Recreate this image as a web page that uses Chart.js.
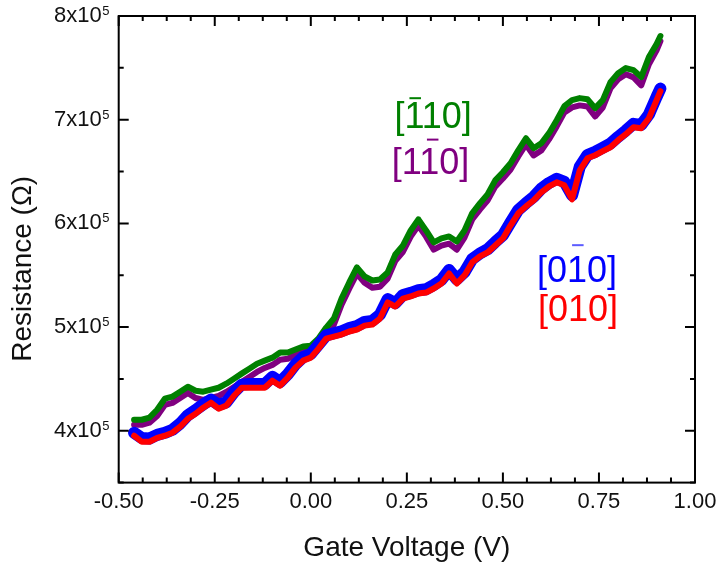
<!DOCTYPE html>
<html>
<head>
<meta charset="utf-8">
<script src="https://cdn.jsdelivr.net/npm/chart.js@4.4.1/dist/chart.umd.min.js"></script>
<style>
  body { margin: 0; background: #fff; }
  canvas { display: block; }
</style>
</head>
<body>
<canvas id="myChart" width="717" height="562"></canvas>
<script>
// gate voltage (V), same grid for every curve
const voltage = [-0.46, -0.44, -0.42, -0.40, -0.38, -0.36, -0.34, -0.32, -0.30, -0.28,
  -0.26, -0.24, -0.22, -0.20, -0.18, -0.16, -0.14, -0.12, -0.10, -0.08,
  -0.06, -0.04, -0.02, 0.00, 0.02, 0.04, 0.06, 0.08, 0.10, 0.12,
  0.14, 0.16, 0.18, 0.20, 0.22, 0.24, 0.26, 0.28, 0.30, 0.32,
  0.34, 0.36, 0.38, 0.40, 0.42, 0.44, 0.46, 0.48, 0.50, 0.52,
  0.54, 0.56, 0.58, 0.60, 0.62, 0.64, 0.66, 0.68, 0.70, 0.72,
  0.74, 0.76, 0.78, 0.80, 0.82, 0.84, 0.86, 0.88, 0.90, 0.91];

// resistance in units of 10^5 ohm
const resM110 = [4.106, 4.106, 4.126, 4.203, 4.309, 4.329, 4.377, 4.425, 4.386, 4.377,
  4.396, 4.415, 4.454, 4.502, 4.551, 4.599, 4.647, 4.676, 4.705, 4.754,
  4.754, 4.783, 4.812, 4.821, 4.889, 4.995, 5.082, 5.275, 5.430, 5.575,
  5.488, 5.449, 5.459, 5.527, 5.700, 5.787, 5.932, 6.039, 5.932, 5.816,
  5.855, 5.874, 5.826, 5.932, 6.097, 6.193, 6.280, 6.415, 6.493, 6.580,
  6.705, 6.821, 6.725, 6.773, 6.870, 6.995, 7.130, 7.188, 7.208, 7.198,
  7.111, 7.188, 7.362, 7.449, 7.498, 7.478, 7.411, 7.604, 7.729, 7.807];

const res1M10 = [4.058, 4.058, 4.078, 4.143, 4.249, 4.269, 4.317, 4.365, 4.316, 4.297,
  4.316, 4.335, 4.374, 4.422, 4.471, 4.519, 4.567, 4.606, 4.635, 4.684,
  4.694, 4.733, 4.772, 4.781, 4.839, 4.935, 5.022, 5.215, 5.370, 5.515,
  5.428, 5.379, 5.389, 5.467, 5.640, 5.727, 5.872, 5.979, 5.872, 5.746,
  5.785, 5.804, 5.746, 5.862, 6.037, 6.133, 6.220, 6.355, 6.433, 6.520,
  6.645, 6.761, 6.655, 6.703, 6.810, 6.935, 7.070, 7.118, 7.138, 7.128,
  7.031, 7.118, 7.302, 7.389, 7.438, 7.408, 7.331, 7.534, 7.669, 7.757];

const res0M10 = [3.98, 3.93, 3.925, 3.96, 3.98, 4.01, 4.07, 4.15, 4.20, 4.255,
  4.30, 4.25, 4.275, 4.37, 4.445, 4.45, 4.45, 4.45, 4.52, 4.47,
  4.545, 4.64, 4.71, 4.74, 4.83, 4.92, 4.94, 4.96, 4.99, 5.01,
  5.05, 5.06, 5.12, 5.27, 5.23, 5.31, 5.33, 5.355, 5.365, 5.405,
  5.455, 5.55, 5.46, 5.53, 5.655, 5.71, 5.75, 5.82, 5.885, 6.01,
  6.13, 6.195, 6.255, 6.335, 6.39, 6.43, 6.40, 6.27, 6.545, 6.66,
  6.69, 6.73, 6.77, 6.835, 6.895, 6.96, 6.95, 7.05, 7.22, 7.30];

const res010 = [3.952, 3.894, 3.894, 3.932, 3.952, 3.981, 4.039, 4.116, 4.164, 4.222,
  4.271, 4.213, 4.242, 4.338, 4.415, 4.415, 4.415, 4.415, 4.483, 4.435,
  4.512, 4.609, 4.676, 4.705, 4.792, 4.889, 4.908, 4.928, 4.957, 4.976,
  5.014, 5.024, 5.082, 5.237, 5.198, 5.275, 5.295, 5.324, 5.333, 5.372,
  5.420, 5.517, 5.420, 5.498, 5.623, 5.681, 5.720, 5.787, 5.855, 5.981,
  6.097, 6.164, 6.222, 6.300, 6.357, 6.396, 6.367, 6.232, 6.512, 6.628,
  6.657, 6.696, 6.734, 6.802, 6.860, 6.928, 6.918, 7.014, 7.188, 7.275];

const xTicks = [-0.50, -0.25, 0.00, 0.25, 0.50, 0.75, 1.00];
const yTicks = [4, 5, 6, 7, 8];

// direction labels: text, index of the digit carrying a bar
const dirNames = ["[110]", "[110]", "[010]", "[010]"];
const dirBars = [1, 2, 2, -1];

const FONT = "'Liberation Sans', Arial, sans-serif";
Chart.defaults.font.family = FONT;
Chart.defaults.color = "#111";

function pts(arr) {
  return voltage.map((v, i) => ({ x: v, y: arr[i] }));
}

const labelPlugin = {
  id: "decor",
  afterDraw(chart) {
    const ctx = chart.ctx;
    const a = chart.chartArea;
    const sx = chart.scales.x, sy = chart.scales.y;
    ctx.save();

    // frame and inward ticks
    ctx.strokeStyle = "#000";
    ctx.lineWidth = 2;
    ctx.strokeRect(a.left, a.top, a.right - a.left, a.bottom - a.top);
    ctx.beginPath();
    for (let k = 0; k <= 24; k++) {
      const v = -0.5 + k * 0.0625;
      const px = sx.getPixelForValue(v);
      const len = k % 4 === 0 ? 10 : 5;
      ctx.moveTo(px, a.bottom); ctx.lineTo(px, a.bottom - len);
      ctx.moveTo(px, a.top); ctx.lineTo(px, a.top + len);
    }
    for (let k = 0; k <= 9; k++) {
      const v = 3.5 + k * 0.5;
      const py = sy.getPixelForValue(v);
      const len = k % 2 === 1 ? 10 : 5;
      ctx.moveTo(a.left, py); ctx.lineTo(a.left + len, py);
      ctx.moveTo(a.right, py); ctx.lineTo(a.right - len, py);
    }
    ctx.stroke();

    // exponent of the y tick labels
    ctx.fillStyle = "#111";
    ctx.font = "13px " + FONT;
    ctx.textAlign = "left";
    ctx.textBaseline = "alphabetic";
    yTicks.forEach(v => {
      const py = sy.getPixelForValue(v);
      ctx.fillText("5", a.left - 16.5, py - 1);
    });

    // direction labels
    const spots = [
      { x: 0.2176, y: 6.918, color: "#008000", bar: "#008000", rise: 31 },
      { x: 0.211, y: 6.480, color: "#800080", bar: "#800080", rise: 35 },
      { x: 0.5888, y: 5.433, color: "#0000ff", bar: "#5c5cff", rise: 38 },
      { x: 0.5914, y: 5.063, color: "#ff0000", bar: "#ff0000", rise: 0 }
    ];
    ctx.font = "36px " + FONT;
    dirNames.forEach((txt, i) => {
      const s = spots[i];
      const px = sx.getPixelForValue(s.x);
      const py = sy.getPixelForValue(s.y);
      ctx.fillStyle = s.color;
      ctx.fillText(txt, px, py);
      if (dirBars[i] >= 0) {
        const pre = ctx.measureText(txt.slice(0, dirBars[i])).width;
        ctx.fillStyle = s.bar;
        ctx.fillRect(px + pre + 36 * 0.14, py - s.rise, 36 * 0.32, 2);
      }
    });
    ctx.restore();
  }
};

const CHART = document.getElementById("myChart");
var myChart = new Chart(CHART, {
  type: "line",
  data: {
    datasets: [
      { label: "[010]", data: pts(res010), borderColor: "#ff0000", borderWidth: 6 },
      { label: "[0-10]", data: pts(res0M10), borderColor: "#0000ff", borderWidth: 12 },
      { label: "[-110]", data: pts(resM110), borderColor: "#008000", borderWidth: 6 },
      { label: "[1-10]", data: pts(res1M10), borderColor: "#800080", borderWidth: 6 }
    ]
  },
  options: {
    responsive: false,
    animation: false,
    events: [],
    elements: {
      point: { radius: 0 },
      line: { tension: 0, borderJoinStyle: "round", borderCapStyle: "round" }
    },
    layout: { padding: { left: 9, right: 22, top: 16, bottom: 0 } },
    plugins: { legend: { display: false }, tooltip: { enabled: false } },
    scales: {
      x: {
        type: "linear",
        min: -0.5,
        max: 1.0,
        afterBuildTicks: s => { s.ticks = xTicks.map(v => ({ value: v })); },
        afterFit: s => { s.paddingLeft = 0; s.paddingRight = 0; },
        ticks: {
          padding: 6,
          font: { size: 22 },
          color: "#111",
          maxRotation: 0,
          callback: v => v.toFixed(2)
        },
        grid: { display: false, drawTicks: false },
        border: { display: false },
        title: {
          display: true,
          text: "Gate Voltage (V)",
          font: { size: 28, lineHeight: 1 },
          color: "#111",
          padding: { top: 13, bottom: 0 }
        }
      },
      y: {
        type: "linear",
        min: 3.5,
        max: 8,
        afterBuildTicks: s => { s.ticks = yTicks.map(v => ({ value: v })); },
        afterFit: s => { s.paddingTop = 0; s.paddingBottom = 0; },
        ticks: {
          padding: 17,
          font: { size: 22 },
          color: "#111",
          callback: v => v + "x10"
        },
        grid: { display: false, drawTicks: false },
        border: { display: false },
        title: {
          display: true,
          // trailing no-break spaces push the title a little below centre, as in the original
          text: "Resistance (Ω)\u00a0\u00a0\u00a0\u00a0\u00a0",
          font: { size: 28, lineHeight: 1 },
          color: "#111",
          padding: { top: 0, bottom: 0 }
        }
      }
    }
  },
  plugins: [labelPlugin]
});
</script>
</body>
</html>
